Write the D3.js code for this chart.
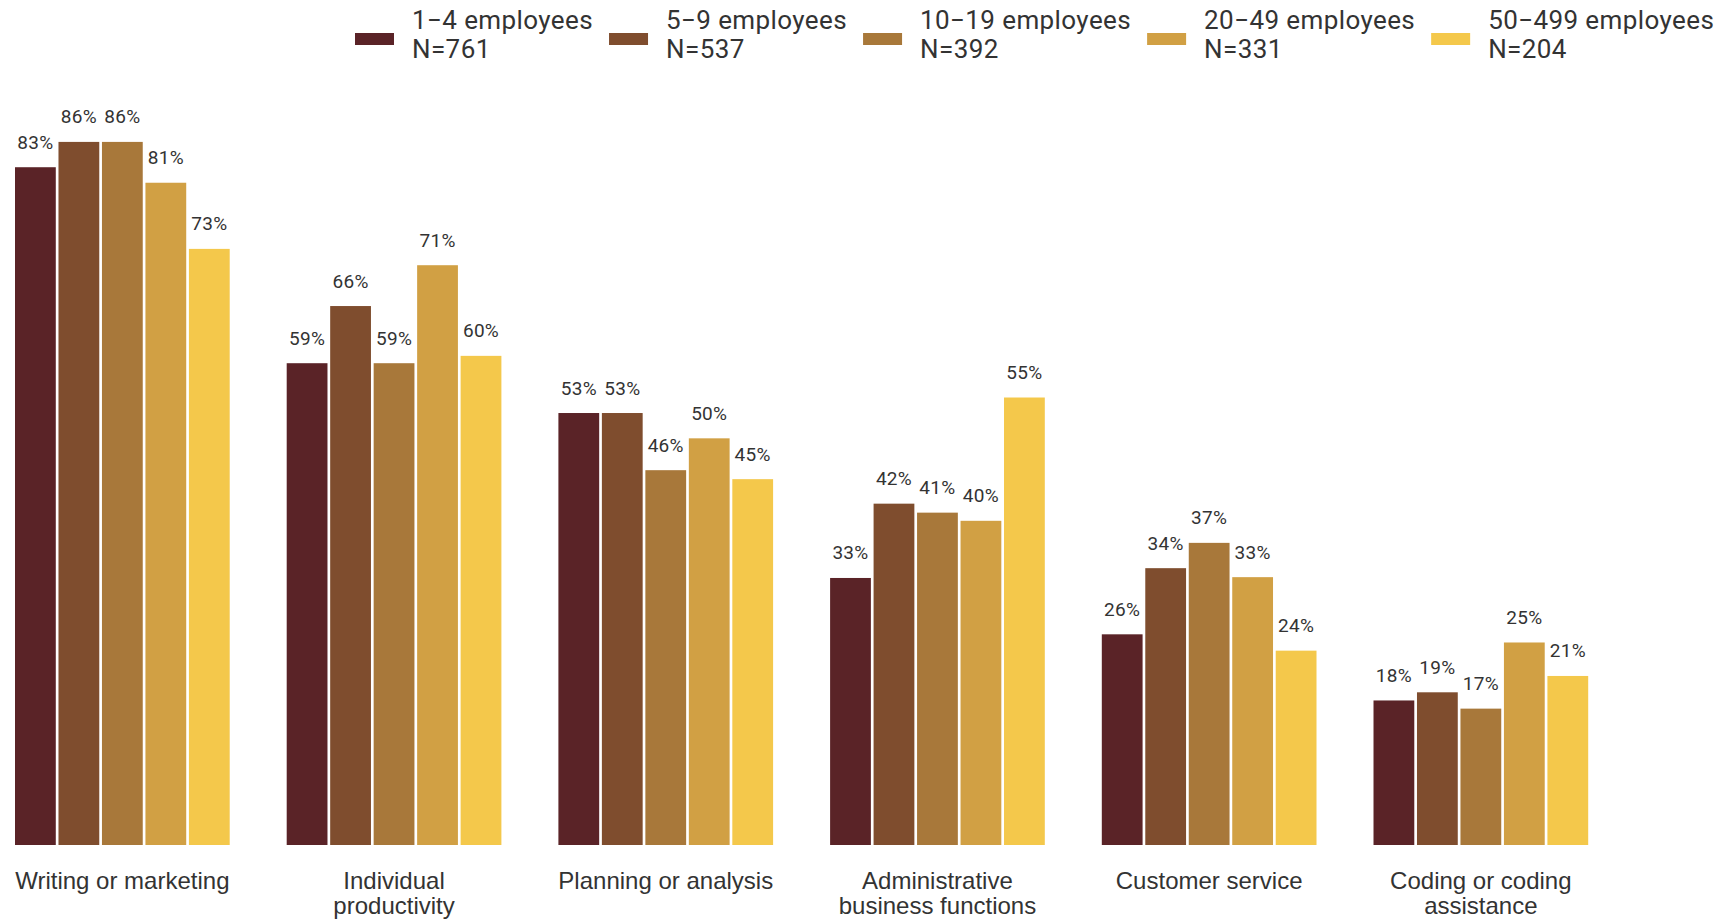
<!DOCTYPE html>
<html>
<head>
<meta charset="utf-8">
<script src="https://cdn.jsdelivr.net/npm/d3@7"></script>
<style>
  html, body { margin: 0; padding: 0; background: #ffffff; }
  svg { display: block; }
</style>
</head>
<body>
<svg id="chart" width="1727" height="919"></svg>
<script>
// ---------- data ----------
const categories = [
  "Writing or marketing",
  "Individual\nproductivity",
  "Planning or analysis",
  "Administrative\nbusiness functions",
  "Customer service",
  "Coding or coding\nassistance"
];
const seriesNames = ["1\u22124 employees", "5\u22129 employees", "10\u221219 employees", "20\u221249 employees", "50\u2212499 employees"];
const seriesN = ["N=761", "N=537", "N=392", "N=331", "N=204"];
const colors = ["#5a2327", "#7f4d2e", "#a8783a", "#d1a044", "#f4c84b"];

// values (%) per series, in category order
const emp1to4   = [83.0, 59.0, 52.9, 32.7, 25.8, 17.7];
const emp5to9   = [86.1, 66.0, 52.9, 41.8, 33.9, 18.7];
const emp10to19 = [86.1, 59.0, 45.9, 40.7, 37.0, 16.7];
const emp20to49 = [81.1, 71.0, 49.8, 39.7, 32.8, 24.8];
const emp50to499= [73.0, 59.9, 44.8, 54.8, 23.8, 20.7];
const seriesValues = [emp1to4, emp5to9, emp10to19, emp20to49, emp50to499];

// ---------- layout ----------
const svg = d3.select("#chart");
const baseY = 845;

const x0 = d3.scaleBand().domain(categories).range([15, 1588.2]).paddingInner(0.2098).paddingOuter(0);
const x1 = d3.scaleBand().domain(seriesNames).range([0, x0.bandwidth()]).paddingInner(0.062).paddingOuter(0);
const y = d3.scaleLinear().domain([0, 100]).range([baseY, baseY - 816.6]);

const rows = [];
categories.forEach((c, ci) => {
  seriesNames.forEach((s, si) => {
    rows.push({cat: c, ser: s, si: si, v: seriesValues[si][ci]});
  });
});

const g = svg.append("g");
g.selectAll("rect.bar").data(rows).join("rect")
  .attr("class", "bar")
  .attr("x", d => x0(d.cat) + x1(d.ser))
  .attr("width", x1.bandwidth())
  .attr("y", d => y(d.v))
  .attr("height", d => y(0) - y(d.v))
  .attr("fill", d => colors[d.si]);

g.selectAll("text.val").data(rows).join("text")
  .attr("class", "val")
  .attr("x", d => x0(d.cat) + x1(d.ser) + x1.bandwidth() / 2)
  .attr("y", d => y(d.v) - 18.5)
  .attr("text-anchor", "middle")
  .attr("font-family", "Roboto, sans-serif")
  .attr("font-size", 19)
  .attr("letter-spacing", 0.3)
  .attr("fill", "#333333")
  .text(d => Math.round(d.v) + "%");

// category labels
const catG = svg.append("g");
categories.forEach(c => {
  const t = catG.append("text")
    .attr("x", x0(c) + x0.bandwidth() / 2)
    .attr("y", 889)
    .attr("text-anchor", "middle")
    .attr("font-family", "'Liberation Sans', Arial, sans-serif")
    .attr("font-size", 24)
    .attr("fill", "#333333");
  c.split("\n").forEach((line, i) => {
    t.append("tspan").attr("x", x0(c) + x0.bandwidth() / 2).attr("dy", i === 0 ? 0 : 25).text(line);
  });
});

// legend
const leg = svg.append("g");
let lx = 355;
seriesNames.forEach((s, i) => {
  leg.append("rect").attr("x", lx).attr("y", 33).attr("width", 39).attr("height", 12).attr("fill", colors[i]);
  const t = leg.append("text")
    .attr("font-family", "Roboto, sans-serif")
    .attr("font-size", 26)
    .attr("letter-spacing", 0.4)
    .attr("fill", "#333333");
  t.append("tspan").attr("x", lx + 57).attr("y", 28.5).text(s);
  t.append("tspan").attr("x", lx + 57).attr("y", 57.5).text(seriesN[i]);
  const w = t.node().getBBox().width;
  lx += 57 + w + 16;
});
</script>
</body>
</html>
